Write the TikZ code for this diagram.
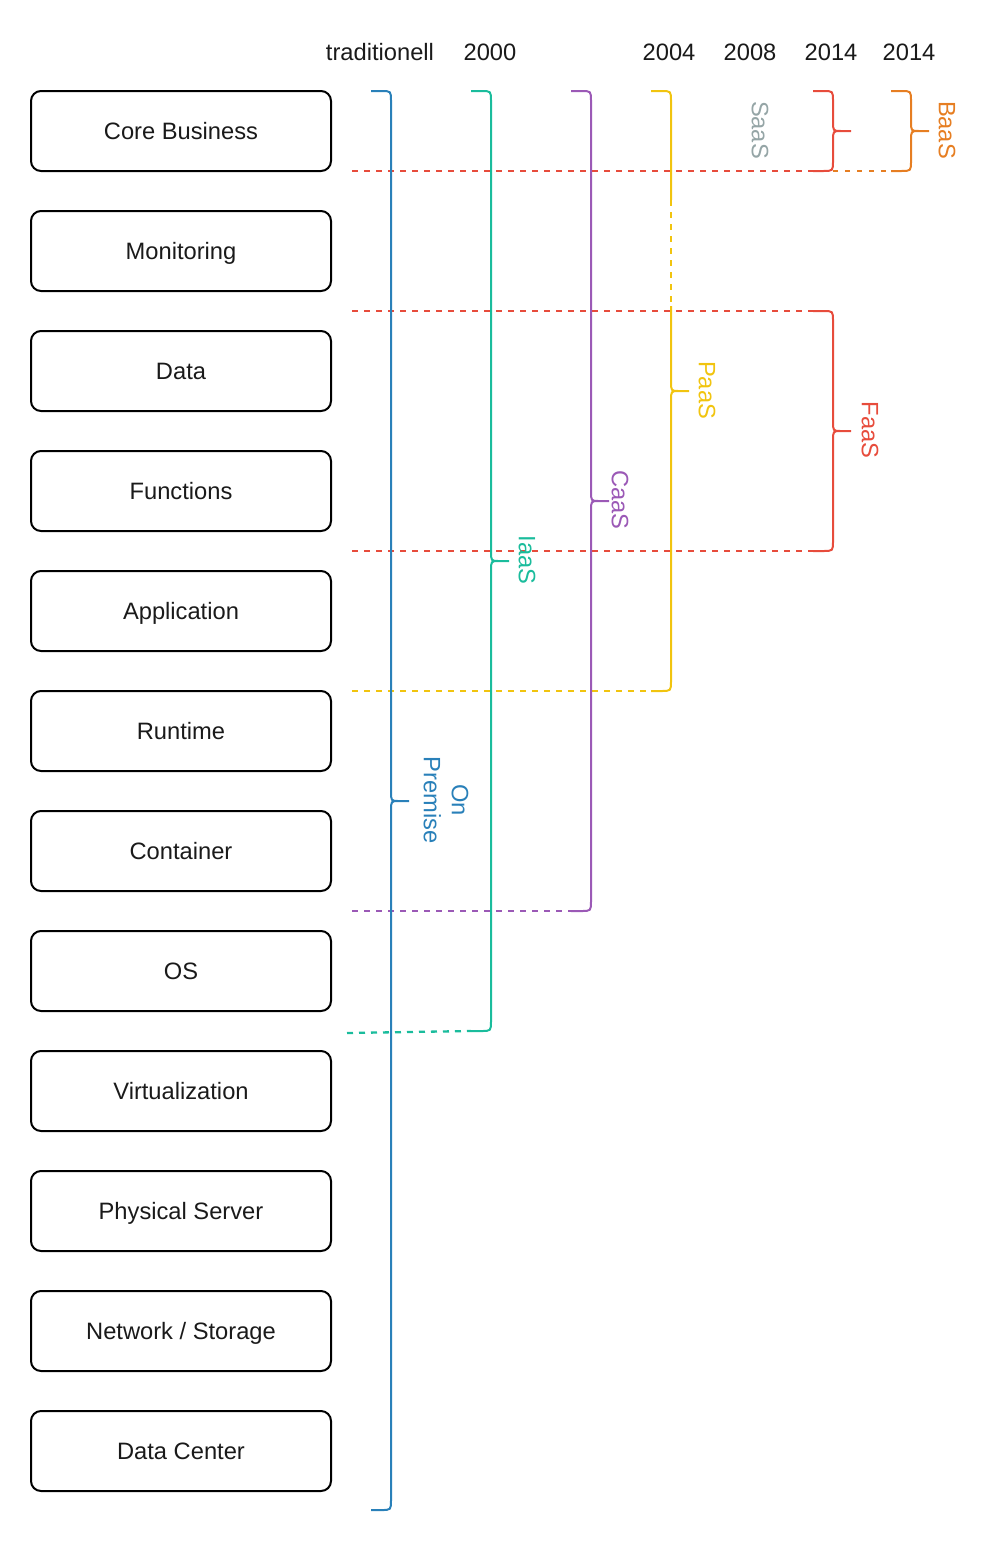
\documentclass[tikz,border=0pt]{standalone}
\usepackage{fontspec}
\setmainfont{Liberation Sans}
\definecolor{premblue}{HTML}{2980B9}
\definecolor{iaasgreen}{HTML}{1ABC9C}
\definecolor{caaspurple}{HTML}{9B59B6}
\definecolor{paasyellow}{HTML}{F1C40F}
\definecolor{faasred}{HTML}{E74C3C}
\definecolor{baasorange}{HTML}{E67E22}
\definecolor{saasgray}{HTML}{95A5A6}
\definecolor{txtgray}{HTML}{1A1A1A}

% curly brace opening to the left: color, x of spine, top, bottom, middle
\newcommand{\layerbrace}[5]{%
  \draw[#1, line width=2pt] (#2-20,#3) -- (#2-10,#3) .. controls (#2,#3) .. (#2,#3+10)
    -- (#2,#5-10) .. controls (#2,#5) .. (#2+8,#5) -- (#2+18,#5)
    (#2+8,#5) .. controls (#2,#5) .. (#2,#5+10)
    -- (#2,#4-10) .. controls (#2,#4) .. (#2-10,#4) -- (#2-20,#4);}

\tikzset{
  layer/.style={draw=black, line width=2pt, rounded corners=10pt, minimum width=300pt,
    minimum height=80pt, inner sep=0pt, text height=17pt, text depth=0pt,
    font=\fontsize{23.7}{28}\selectfont, text=txtgray},
  year/.style={font=\fontsize{23.7}{28}\selectfont, text=txtgray, inner sep=0pt},
  model/.style={rotate=-90, font=\fontsize{23.7}{28}\selectfont, inner sep=0pt, align=center},
  cut/.style={dash pattern=on 6pt off 6pt, line width=2.3pt},
}

\begin{document}
\begin{tikzpicture}[x=1pt, y=-1pt]
    \useasboundingbox (0,0) rectangle (1002,1542);

    % Column headings
    \node[year] (hTrad) at (380, 52) {traditionell};
    \node[year] (h2000) at (490, 52) {2000};
    \node[year] (h2004) at (669, 52) {2004};
    \node[year] (h2008) at (750, 52) {2008};
    \node[year] (h2014a) at (831, 52) {2014};
    \node[year] (h2014b) at (909, 52) {2014};

    % Stack of layers
    \node[layer] (core) at (181, 131) {Core Business};
    \node[layer] (monitoring) at (181, 251) {Monitoring};
    \node[layer] (data) at (181, 371) {Data};
    \node[layer] (functions) at (181, 491) {Functions};
    \node[layer] (application) at (181, 611) {Application};
    \node[layer] (runtime) at (181, 731) {Runtime};
    \node[layer] (container) at (181, 851) {Container};
    \node[layer] (os) at (181, 971) {OS};
    \node[layer] (virt) at (181, 1091) {Virtualization};
    \node[layer] (physical) at (181, 1211) {Physical Server};
    \node[layer] (network) at (181, 1331) {Network / Storage};
    \node[layer] (datacenter) at (181, 1451) {Data Center};

    % Cut lines between responsibilities
    \draw[cut, faasred] (352, 171) -- (813, 171);
    \draw[cut, baasorange, dash pattern=on 5pt off 7pt] (833, 171) -- (891, 171);
    \draw[cut, faasred] (352, 311) -- (813, 311);
    \draw[cut, faasred] (352, 551) -- (813, 551);
    \draw[cut, paasyellow] (352, 691) -- (651, 691);
    \draw[cut, caaspurple] (352, 911) -- (571, 911);
    \draw[cut, iaasgreen] (347, 1033) -- (471, 1031);

    % Braces per service model
    \layerbrace{premblue}{391}{91}{1510}{801}
    \layerbrace{iaasgreen}{491}{91}{1031}{561}
    \layerbrace{caaspurple}{591}{91}{911}{501}
    \layerbrace{paasyellow}{671}{91}{691}{391}
    \draw[white, line width=3pt] (671, 200) -- (671, 306);
    \draw[cut, paasyellow] (671, 200) -- (671, 306);
    \layerbrace{faasred}{833}{91}{171}{131}
    \layerbrace{faasred}{833}{311}{551}{431}
    \layerbrace{baasorange}{911}{91}{171}{131}

    % Model labels
    \node[model, text=premblue] (lPrem) at (446, 800) {On\\Premise};
    \node[model, text=iaasgreen] (lIaas) at (527, 560) {IaaS};
    \node[model, text=caaspurple] (lCaas) at (620, 500) {CaaS};
    \node[model, text=paasyellow] (lPaas) at (707, 390) {PaaS};
    \node[model, text=saasgray] (lSaas) at (760, 130) {SaaS};
    \node[model, text=faasred] (lFaas) at (870, 430) {FaaS};
    \node[model, text=baasorange] (lBaas) at (947, 130) {BaaS};
\end{tikzpicture}
\end{document}
